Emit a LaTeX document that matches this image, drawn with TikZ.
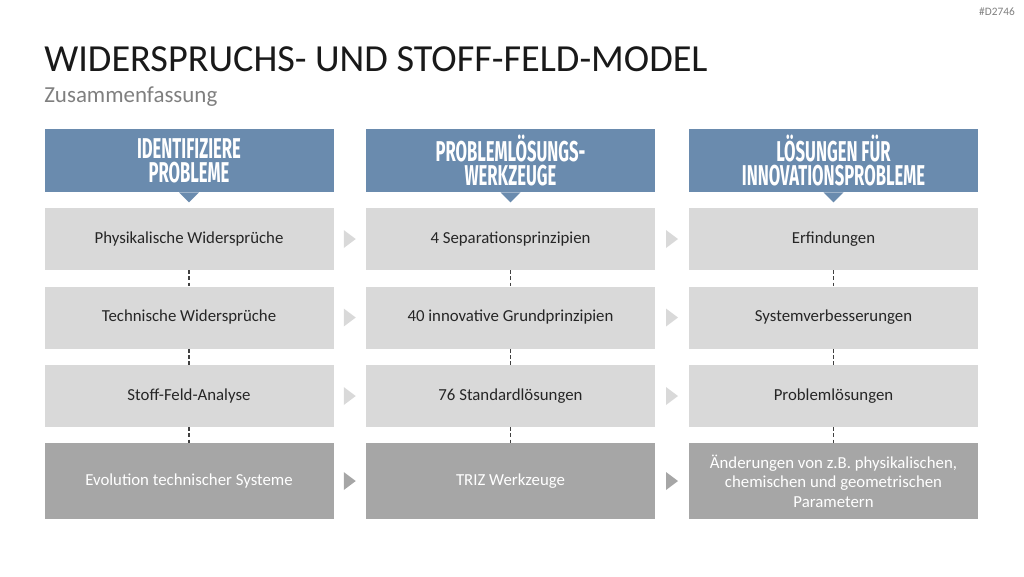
\documentclass[tikz,border=0pt]{standalone}
\usepackage{fontspec}
\setmainfont{Carlito}
\newfontfamily\headfont[FakeStretch=0.58]{Fira Sans}
\usetikzlibrary{positioning}
\definecolor{hblue}{HTML}{6A8BAE}
\definecolor{lgray}{HTML}{D9D9D9}
\definecolor{dgray}{HTML}{A6A6A6}
\definecolor{txt}{HTML}{262626}
\definecolor{subg}{HTML}{7F7F7F}
\definecolor{dashg}{HTML}{404040}
\tikzset{
  px/.style={x=0.75pt,y=-0.75pt},
  headbox/.style={fill=hblue,minimum width=216.75pt,minimum height=47.25pt,inner sep=0pt,align=center,text=white,
     font=\headfont\bfseries\fontsize{21.5}{18}\selectfont},
  rowbox/.style={fill=lgray,minimum width=216.75pt,minimum height=46.5pt,inner sep=0pt,align=center,text=txt,
     font=\fontsize{12.6}{14.5}\selectfont},
  lastbox/.style={fill=dgray,minimum width=216.75pt,minimum height=57pt,inner sep=0pt,align=center,text=white,
     font=\fontsize{12.6}{14.5}\selectfont},
  conn/.style={draw=dashg,line width=1.3pt,dash pattern=on 3pt off 1.6pt},
  arrowtri/.style={fill=lgray},
  arrowtrid/.style={fill=dgray},
}
\begin{document}
\begin{tikzpicture}[px]
\useasboundingbox (0,0) rectangle (1024,576);
\node[anchor=north east,text=subg,font=\fontsize{8.5}{10}\selectfont,inner sep=0pt] (tag) at (1015,8) {\#D2746};
\node[anchor=base west,inner sep=0pt,text=black!90,font=\fontsize{28.7}{32}\selectfont] (title) at (44,71) {WIDERSPRUCHS- UND STOFF-FELD-MODEL};
\node[anchor=base west,inner sep=0pt,text=subg,font=\fontsize{17.2}{20}\selectfont] (sub) at (44,102) {Zusammenfassung};

% headers
\node[headbox] (h1) at (189,160.5) {IDENTIFIZIERE\\PROBLEME};
\node[headbox] (h2) at (510.5,160.5) {PROBLEMLÖSUNGS-\\WERKZEUGE};
\node[headbox] (h3) at (833.5,160.5) {LÖSUNGEN FÜR\\INNOVATIONSPROBLEME};
\foreach \h in {h1,h2,h3}{
  \fill[hblue] ([xshift=-7.5pt]\h.south) -- ([xshift=7.5pt]\h.south) -- ([yshift=-7.5pt]\h.south) -- cycle;
}
% rows
\node[rowbox] (a1) at (189,239) {Physikalische Widersprüche};
\node[rowbox] (a2) at (189,317.5) {Technische Widersprüche};
\node[rowbox] (a3) at (189,396) {Stoff-Feld-Analyse};
\node[lastbox] (a4) at (189,481) {Evolution technischer Systeme};
\node[rowbox] (b1) at (510.5,239) {4 Separationsprinzipien};
\node[rowbox] (b2) at (510.5,317.5) {40 innovative Grundprinzipien};
\node[rowbox] (b3) at (510.5,396) {76 Standardlösungen};
\node[lastbox] (b4) at (510.5,481) {TRIZ Werkzeuge};
\node[rowbox] (d1) at (833.5,239) {Erfindungen};
\node[rowbox] (d2) at (833.5,317.5) {Systemverbesserungen};
\node[rowbox] (d3) at (833.5,396) {Problemlösungen};
\node[lastbox] (d4) at (833.5,481) {Änderungen von z.B. physikalischen,\\chemischen und geometrischen\\Parametern};
% dashed connectors
\foreach \p in {a,b,d}{
  \draw[conn] (\p1.south) -- (\p2.north);
  \draw[conn] (\p2.south) -- (\p3.north);
  \draw[conn] (\p3.south) -- (\p4.north);
}
% arrows between columns
\foreach \r in {1,2,3}{
  \path (a\r.east) -- (b\r.west) coordinate[pos=0.5] (m\r ab);
  \path (b\r.east) -- (d\r.west) coordinate[pos=0.5] (m\r bd);
  \fill[arrowtri] ([xshift=-4.5pt,yshift=6.75pt]m\r ab) -- ([xshift=4.5pt]m\r ab) -- ([xshift=-4.5pt,yshift=-6.75pt]m\r ab) -- cycle;
  \fill[arrowtri] ([xshift=-4.5pt,yshift=6.75pt]m\r bd) -- ([xshift=4.5pt]m\r bd) -- ([xshift=-4.5pt,yshift=-6.75pt]m\r bd) -- cycle;
}
\path (a4.east) -- (b4.west) coordinate[pos=0.5] (m4ab);
\path (b4.east) -- (d4.west) coordinate[pos=0.5] (m4bd);
\fill[arrowtrid] ([xshift=-4.5pt,yshift=6.75pt]m4ab) -- ([xshift=4.5pt]m4ab) -- ([xshift=-4.5pt,yshift=-6.75pt]m4ab) -- cycle;
\fill[arrowtrid] ([xshift=-4.5pt,yshift=6.75pt]m4bd) -- ([xshift=4.5pt]m4bd) -- ([xshift=-4.5pt,yshift=-6.75pt]m4bd) -- cycle;
\end{tikzpicture}
\end{document}
